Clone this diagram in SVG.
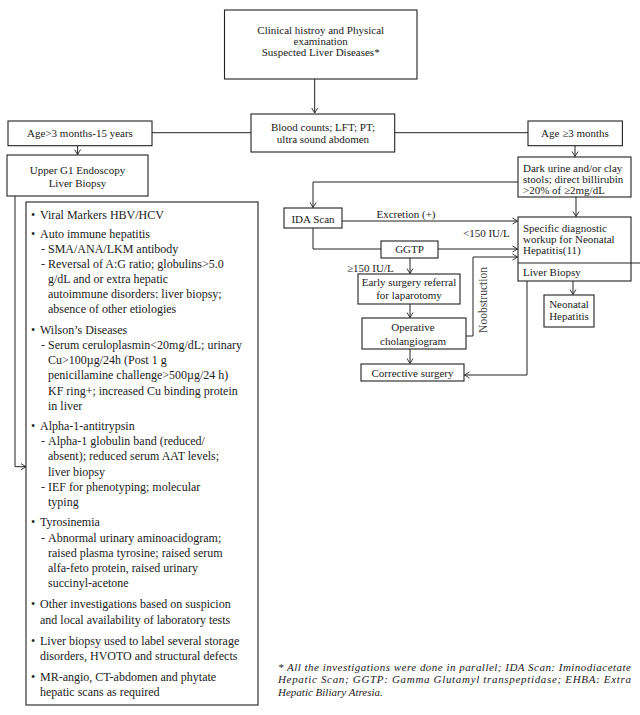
<svg xmlns="http://www.w3.org/2000/svg" width="640" height="715" viewBox="0 0 640 715">
<defs>
<marker id="arr" markerUnits="userSpaceOnUse" markerWidth="8" markerHeight="8" refX="6" refY="4" orient="auto">
<path d="M1,1 L6,4 L1,7" fill="none" stroke="#222" stroke-width="0.9"/>
</marker>
<style>
.box{fill:#fff;stroke:#222;stroke-width:1.1}
.t{font-family:"Liberation Serif","Times New Roman",serif;font-size:11px;fill:#222}
.c{text-anchor:middle}
.b{font-family:"Liberation Serif","Times New Roman",serif;font-size:12px;fill:#222}
.ln{fill:none;stroke:#222;stroke-width:1}
.fn{font-family:"Liberation Serif","Times New Roman",serif;font-size:11px;font-style:italic;fill:#222}
</style>
</defs>
<rect width="640" height="715" fill="#fff"/>

<g id="connectors">
<path class="ln" d="M314.7,79 V113" marker-end="url(#arr)"/>
<path class="ln" d="M152,132.7 H251"/>
<path class="ln" d="M394.7,132.7 H528"/>
<path class="ln" d="M77.6,145.7 V154.5" marker-end="url(#arr)"/>
<path class="ln" d="M575,145.7 V156.5" marker-end="url(#arr)"/>
<path class="ln" d="M15,196 V466.7 H26" marker-end="url(#arr)"/>
<path class="ln" d="M518,182 H313 V207.5" marker-end="url(#arr)"/>
<path class="ln" d="M342,221 H517.5" marker-end="url(#arr)"/>
<path class="ln" d="M576,197 V216.5" marker-end="url(#arr)"/>
<path class="ln" d="M313,228 V249 H381"/>
<path class="ln" d="M438,249 H517.5" marker-end="url(#arr)"/>
<path class="ln" d="M410,258 V273.5" marker-end="url(#arr)"/>
<path class="ln" d="M410,304 V317.5" marker-end="url(#arr)"/>
<path class="ln" d="M410,349 V363.5" marker-end="url(#arr)"/>
<path class="ln" d="M466,336 H473 V257 H517.5" marker-end="url(#arr)"/>
<path class="ln" d="M527,281 V375 H464.5" marker-end="url(#arr)"/>
<path class="ln" d="M573,281 V294.5" marker-end="url(#arr)"/>
<text class="t c" x="406" y="217.5">Excretion (+)</text>
<text class="t" x="463" y="237">&lt;150 IU/L</text>
<text class="t" x="347" y="272">≥150 IU/L</text>
<text class="t c" x="487" y="300" transform="rotate(-90 487 300)" style="font-size:11.5px;fill:#444">Noobstruction</text>
</g>

<g id="n-history">
<rect class="box" x="224.5" y="10" width="192.5" height="69"/>
<text class="t c" x="320.7" y="34.2">Clinical histroy and Physical</text>
<text class="t c" x="320.7" y="45.1">examination</text>
<text class="t c" x="320.7" y="56">Suspected Liver Diseases*</text>
</g>

<g id="n-blood">
<rect class="box" x="251" y="114" width="143.7" height="38"/>
<text class="t c" x="323" y="130.5">Blood counts; LFT; PT;</text>
<text class="t c" x="323" y="143">ultra sound abdomen</text>
</g>

<g id="n-age-old">
<rect class="box" x="8" y="121" width="144" height="24.7"/>
<text class="t c" x="80" y="136.5">Age&gt;3 months-15 years</text>
</g>

<g id="n-age-young">
<rect class="box" x="528" y="121" width="94.4" height="24.7"/>
<text class="t c" x="575" y="136.5">Age ≥3 months</text>
</g>

<g id="n-endoscopy">
<rect class="box" x="7" y="155" width="141" height="41"/>
<text class="t c" x="77.5" y="174">Upper G1 Endoscopy</text>
<text class="t c" x="77.5" y="186.5">Liver Biopsy</text>
</g>

<g id="n-investigations">
<rect class="box" x="26" y="202" width="232" height="503"/>
<g class="b">
<text x="31" y="218.5">•</text><text x="40" y="218.5">Viral Markers HBV/HCV</text>
<text x="31" y="237.5">•</text><text x="40" y="237.5">Auto immune hepatitis</text>
<text x="41" y="252.6">-</text><text x="48" y="252.6">SMA/ANA/LKM antibody</text>
<text x="41" y="267.8">-</text><text x="48" y="267.8">Reversal of A:G ratio; globulins&gt;5.0</text>
<text x="48" y="283">g/dL and or extra hepatic</text>
<text x="48" y="298.2">autoimmune disorders: liver biopsy;</text>
<text x="48" y="313.4">absence of other etiologies</text>
<text x="31" y="333.8">•</text><text x="40" y="333.8">Wilson’s Diseases</text>
<text x="41" y="349">-</text><text x="48" y="349">Serum ceruloplasmin&lt;20mg/dL; urinary</text>
<text x="48" y="364.2">Cu&gt;100µg/24h (Post 1 g</text>
<text x="48" y="379.4">penicillamine challenge&gt;500µg/24 h)</text>
<text x="48" y="394.6">KF ring+; increased Cu binding protein</text>
<text x="48" y="409.8">in liver</text>
<text x="31" y="430">•</text><text x="40" y="430">Alpha-1-antitrypsin</text>
<text x="41" y="445.2">-</text><text x="48" y="445.2">Alpha-1 globulin band (reduced/</text>
<text x="48" y="460.4">absent); reduced serum AAT levels;</text>
<text x="48" y="475.6">liver biopsy</text>
<text x="41" y="490.8">-</text><text x="48" y="490.8">IEF for phenotyping; molecular</text>
<text x="48" y="506">typing</text>
<text x="31" y="526.4">•</text><text x="40" y="526.4">Tyrosinemia</text>
<text x="41" y="541.6">-</text><text x="48" y="541.6">Abnormal urinary aminoacidogram;</text>
<text x="48" y="556.8">raised plasma tyrosine; raised serum</text>
<text x="48" y="572">alfa-feto protein, raised urinary</text>
<text x="48" y="587.2">succinyl-acetone</text>
<text x="31" y="608.4">•</text><text x="40" y="608.4">Other investigations based on suspicion</text>
<text x="40" y="623.6">and local availability of laboratory tests</text>
<text x="31" y="644.6">•</text><text x="40" y="644.6">Liver biopsy used to label several storage</text>
<text x="40" y="659.8">disorders, HVOTO and structural defects</text>
<text x="31" y="681">•</text><text x="40" y="681">MR-angio, CT-abdomen and phytate</text>
<text x="40" y="696.2">hepatic scans as required</text>
</g>
</g>

<g id="n-dark-urine">
<rect class="box" x="518" y="157" width="113" height="40"/>
<text class="t" x="523" y="172">Dark urine and/or clay</text>
<text class="t" x="523" y="183">stools; direct billirubin</text>
<text class="t" x="523" y="193.8">&gt;20% of ≥2mg/dL</text>
</g>

<g id="n-ida">
<rect class="box" x="284" y="208" width="58" height="20"/>
<text class="t c" x="313" y="222.5">IDA Scan</text>
</g>

<g id="n-specific">
<rect class="box" x="518" y="217" width="113" height="64"/>
<line class="ln" x1="518" y1="263" x2="640" y2="263"/>
<text class="t" x="523" y="232">Specific diagnostic</text>
<text class="t" x="523" y="243">workup for Neonatal</text>
<text class="t" x="523" y="254">Hepatitis(11)</text>
<text class="t" x="523" y="275.5">Liver Biopsy</text>
</g>

<g id="n-ggtp">
<rect class="box" x="381" y="241" width="57" height="17"/>
<text class="t c" x="409.5" y="253">GGTP</text>
</g>

<g id="n-early-surgery">
<rect class="box" x="358" y="274" width="102" height="30"/>
<text class="t c" x="409" y="285.5">Early surgery referral</text>
<text class="t c" x="409" y="299">for laparotomy</text>
</g>

<g id="n-cholangiogram">
<rect class="box" x="362" y="318" width="104" height="31"/>
<text class="t c" x="413" y="331">Operative</text>
<text class="t c" x="413" y="344.5">cholangiogram</text>
</g>

<g id="n-corrective">
<rect class="box" x="361" y="364" width="103" height="17"/>
<text class="t c" x="412.5" y="376.5">Corrective surgery</text>
</g>

<g id="n-neonatal">
<rect class="box" x="544" y="295" width="50" height="32"/>
<text class="t c" x="569" y="308">Neonatal</text>
<text class="t c" x="569" y="320">Hepatitis</text>
</g>

<g id="footnote">
<text class="fn" x="278" y="670.5" textLength="353" lengthAdjust="spacing">* All the investigations were done in parallel; IDA Scan: Iminodiacetate</text>
<text class="fn" x="278" y="683" textLength="353" lengthAdjust="spacing">Hepatic Scan; GGTP: Gamma Glutamyl transpeptidase; EHBA: Extra</text>
<text class="fn" x="278" y="695.5">Hepatic Biliary Atresia.</text>
</g>
</svg>
